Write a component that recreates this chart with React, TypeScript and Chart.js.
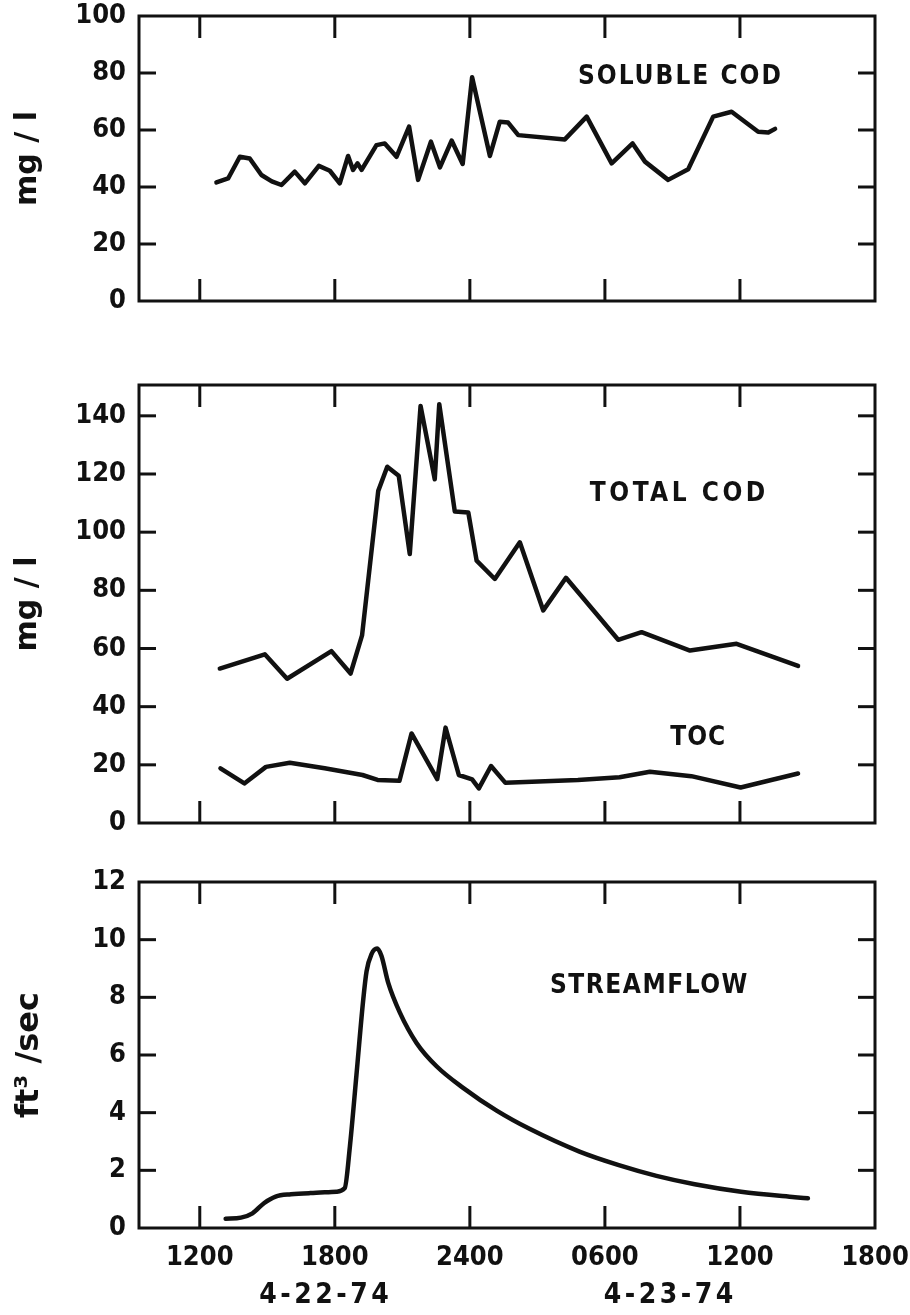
import React, { useEffect, useRef } from 'react';
import { Chart, registerables } from 'chart.js';

Chart.register(...registerables);

// ---------- data ----------
const xTickHours = [12, 18, 24, 30, 36, 42];
const xTickLabels = ['1200', '1800', '2400', '0600', '1200', '1800'];
const dateLabels = ['4-22-74', '4-23-74'];
const dateHours = [17.6, 32.9];

const solubleHours = [12.74, 13.26, 13.78, 14.22, 14.74, 15.2, 15.63, 16.22, 16.67, 17.29, 17.78, 18.22, 18.59, 18.81, 19.01, 19.19, 19.85, 20.22, 20.74, 21.3, 21.7, 22.27, 22.67, 23.19, 23.68, 24.1, 24.89, 25.33, 25.7, 26.15, 28.22, 29.19, 30.3, 31.23, 31.78, 32.81, 33.7, 34.81, 35.63, 36.81, 37.26, 37.56];
const solubleValues = [41.6, 43.0, 50.6, 50.0, 44.2, 42.0, 40.7, 45.4, 41.3, 47.4, 45.7, 41.3, 50.9, 46.0, 48.3, 46.0, 54.7, 55.3, 50.6, 61.2, 42.5, 55.9, 46.9, 56.3, 48.1, 78.5, 50.9, 62.9, 62.6, 58.2, 56.7, 64.7, 48.3, 55.3, 48.9, 42.5, 46.2, 64.7, 66.4, 59.4, 59.1, 60.4];

const totalCodHours = [12.89, 14.89, 15.88, 17.85, 18.7, 19.21, 19.93, 20.33, 20.84, 21.33, 21.81, 22.44, 22.64, 23.33, 23.93, 24.3, 25.11, 26.22, 27.26, 28.27, 30.59, 31.63, 33.78, 35.85, 38.58];
const totalCodValues = [53.1, 58.0, 49.6, 59.1, 51.4, 64.5, 114.2, 122.5, 119.4, 92.5, 143.4, 118.2, 144.0, 107.1, 106.8, 90.2, 83.9, 96.5, 73.1, 84.3, 63.0, 65.6, 59.3, 61.6, 54.0];

const tocHours = [12.92, 13.98, 14.94, 16.0, 17.55, 19.23, 19.9, 20.87, 21.41, 22.55, 22.92, 23.51, 24.1, 24.4, 24.94, 25.58, 28.8, 30.65, 32.0, 33.84, 36.03, 38.58];
const tocValues = [18.8, 13.6, 19.3, 20.7, 18.8, 16.5, 14.8, 14.5, 30.8, 15.1, 32.8, 16.5, 15.0, 11.9, 19.6, 13.8, 14.8, 15.7, 17.6, 16.1, 12.2, 17.0];

const flowHours = [13.15, 13.83, 14.34, 14.85, 15.37, 16.05, 16.91, 18.07, 18.44, 18.67, 18.96, 19.26, 19.41, 19.63, 19.88, 20.07, 20.37, 20.89, 21.63, 22.52, 23.7, 25.19, 26.67, 28.87, 30.58, 32.29, 33.99, 36.05, 38.44, 39.02];
const flowValues = [0.32, 0.36, 0.51, 0.86, 1.09, 1.17, 1.21, 1.26, 1.38, 2.83, 5.3, 7.9, 8.9, 9.5, 9.69, 9.44, 8.51, 7.47, 6.42, 5.61, 4.86, 4.07, 3.43, 2.65, 2.19, 1.81, 1.52, 1.26, 1.07, 1.03];

const yTicksSoluble = [0, 20, 40, 60, 80, 100];
const yTicksCod = [0, 20, 40, 60, 80, 100, 120, 140];
const yTicksFlow = [0, 2, 4, 6, 8, 10, 12];

// ---------- styling / layout ----------
const INK = '#111111';
const X_MIN = 9.3;
const X_MAX = 42;
const NUM_FONT = { family: '"DejaVu Sans Condensed", "DejaVu Sans", sans-serif', size: 27, weight: 'bold' };
const NOTE_FONT = 'bold 26px "DejaVu Sans Condensed", "DejaVu Sans", sans-serif';
const DATE_FONT = 'bold 28px "DejaVu Sans Condensed", "DejaVu Sans", sans-serif';

type Note = { text: string; hour: number; value: number; spacing: number };

const framePlugin = {
  id: 'frameTicks',
  afterDatasetsDraw(chart: any, _args: any, opts: any) {
    const { ctx, chartArea: a, scales } = chart;
    const xs = scales.x;
    const ys = scales.y;
    ctx.save();
    ctx.strokeStyle = INK;
    ctx.lineWidth = 3;
    ctx.lineCap = 'butt';
    ctx.strokeRect(a.left, a.top, a.right - a.left, a.bottom - a.top);
    const seg = (x1: number, y1: number, x2: number, y2: number) => {
      ctx.beginPath();
      ctx.moveTo(x1, y1);
      ctx.lineTo(x2, y2);
      ctx.stroke();
    };
    xs.ticks.forEach((t: any) => {
      const px = xs.getPixelForValue(t.value);
      if (px <= a.left + 2 || px >= a.right - 2) return;
      seg(px, a.top, px, a.top + 22);
      seg(px, a.bottom, px, a.bottom - 22);
    });
    ys.ticks.forEach((t: any) => {
      const py = ys.getPixelForValue(t.value);
      if (py <= a.top + 2 || py >= a.bottom - 2) return;
      seg(a.left, py, a.left + 17, py);
      seg(a.right, py, a.right - 17, py);
    });
    ctx.fillStyle = INK;
    ctx.font = NOTE_FONT;
    ctx.textAlign = 'left';
    ctx.textBaseline = 'middle';
    (opts.notes || []).forEach((n: Note) => {
      (ctx as any).letterSpacing = n.spacing + 'px';
      ctx.fillText(n.text, xs.getPixelForValue(n.hour), ys.getPixelForValue(n.value));
    });
    if (opts.dates) {
      ctx.font = DATE_FONT;
      ctx.textAlign = 'center';
      (ctx as any).letterSpacing = '3.5px';
      dateLabels.forEach((d, i) => {
        ctx.fillText(d, xs.getPixelForValue(dateHours[i]), a.bottom + 68);
      });
    }
    ctx.restore();
  },
};

type Series = { hours: number[]; values: number[]; smooth?: boolean };
type PanelSpec = {
  top: number;
  height: number;
  padTop: number;
  xAxisH: number;
  showX: boolean;
  yMax: number;
  yTicks: number[];
  yTitle: string;
  titleSize: number;
  series: Series[];
  notes: Note[];
  dates: boolean;
};

const panels: PanelSpec[] = [
  {
    top: 0, height: 340, padTop: 16, xAxisH: 39, showX: false,
    yMax: 100, yTicks: yTicksSoluble, yTitle: 'mg / l', titleSize: 30,
    series: [{ hours: solubleHours, values: solubleValues }],
    notes: [{ text: 'SOLUBLE COD', hour: 28.8, value: 78.5, spacing: 2 }],
    dates: false,
  },
  {
    top: 340, height: 500, padTop: 45, xAxisH: 17, showX: false,
    yMax: 150.6, yTicks: yTicksCod, yTitle: 'mg / l', titleSize: 30,
    series: [
      { hours: totalCodHours, values: totalCodValues },
      { hours: tocHours, values: tocValues },
    ],
    notes: [
      { text: 'TOTAL COD', hour: 29.33, value: 113.2, spacing: 3.5 },
      { text: 'TOC', hour: 32.9, value: 29.3, spacing: 1 },
    ],
    dates: false,
  },
  {
    top: 840, height: 475, padTop: 42, xAxisH: 87, showX: true,
    yMax: 12, yTicks: yTicksFlow, yTitle: 'ft³ /sec', titleSize: 32,
    series: [{ hours: flowHours, values: flowValues, smooth: true }],
    notes: [{ text: 'STREAMFLOW', hour: 27.56, value: 8.37, spacing: 1.5 }],
    dates: true,
  },
];

function buildConfig(p: PanelSpec): any {
  return {
    type: 'line',
    data: {
      datasets: p.series.map((s) => ({
        data: s.hours.map((h, i) => ({ x: h, y: s.values[i] })),
        borderColor: INK,
        borderWidth: 4.5,
        pointRadius: 0,
        fill: false,
        tension: 0,
        cubicInterpolationMode: s.smooth ? 'monotone' : 'default',
        borderJoinStyle: 'round',
        borderCapStyle: 'round',
      })),
    },
    options: {
      responsive: false,
      animation: false,
      events: [],
      layout: { padding: { top: p.padTop, right: 35, left: 0, bottom: 0 } },
      plugins: {
        legend: { display: false },
        tooltip: { enabled: false },
        frameTicks: { notes: p.notes, dates: p.dates },
      },
      scales: {
        x: {
          type: 'linear',
          min: X_MIN,
          max: X_MAX,
          afterBuildTicks: (s: any) => {
            s.ticks = xTickHours.map((v) => ({ value: v }));
          },
          afterFit: (s: any) => {
            s.height = p.xAxisH;
            s.paddingLeft = 0;
            s.paddingRight = 0;
          },
          grid: { display: false, drawTicks: false },
          border: { display: false },
          ticks: {
            display: p.showX,
            padding: 14,
            autoSkip: false,
            maxRotation: 0,
            color: INK,
            font: NUM_FONT,
            callback: (_v: any, i: number) => xTickLabels[i],
          },
        },
        y: {
          type: 'linear',
          min: 0,
          max: p.yMax,
          afterBuildTicks: (s: any) => {
            s.ticks = p.yTicks.map((v) => ({ value: v }));
          },
          afterFit: (s: any) => {
            s.width = 139;
            s.paddingTop = 0;
            s.paddingBottom = 0;
          },
          grid: { display: false, drawTicks: false },
          border: { display: false },
          ticks: { padding: 13, color: INK, font: NUM_FONT },
          title: {
            display: true,
            text: p.yTitle,
            color: INK,
            font: { family: '"DejaVu Sans", sans-serif', size: p.titleSize, weight: 'bold' },
            padding: { top: 10, bottom: 0 },
          },
        },
      },
    },
    plugins: [framePlugin],
  };
}

function Panel({ spec }: { spec: PanelSpec }) {
  const ref = useRef<HTMLCanvasElement>(null);
  useEffect(() => {
    const chart = new Chart(ref.current as HTMLCanvasElement, buildConfig(spec));
    return () => chart.destroy();
  }, [spec]);
  return (
    <canvas
      ref={ref}
      width={910}
      height={spec.height}
      style={{ position: 'absolute', left: 0, top: spec.top, width: 910, height: spec.height, display: 'block' }}
    />
  );
}

export default function App() {
  return (
    <div style={{ position: 'absolute', left: 0, top: 0, width: 910, height: 1315, background: '#fff', overflow: 'hidden' }}>
      {panels.map((p, i) => (
        <Panel key={i} spec={p} />
      ))}
    </div>
  );
}
